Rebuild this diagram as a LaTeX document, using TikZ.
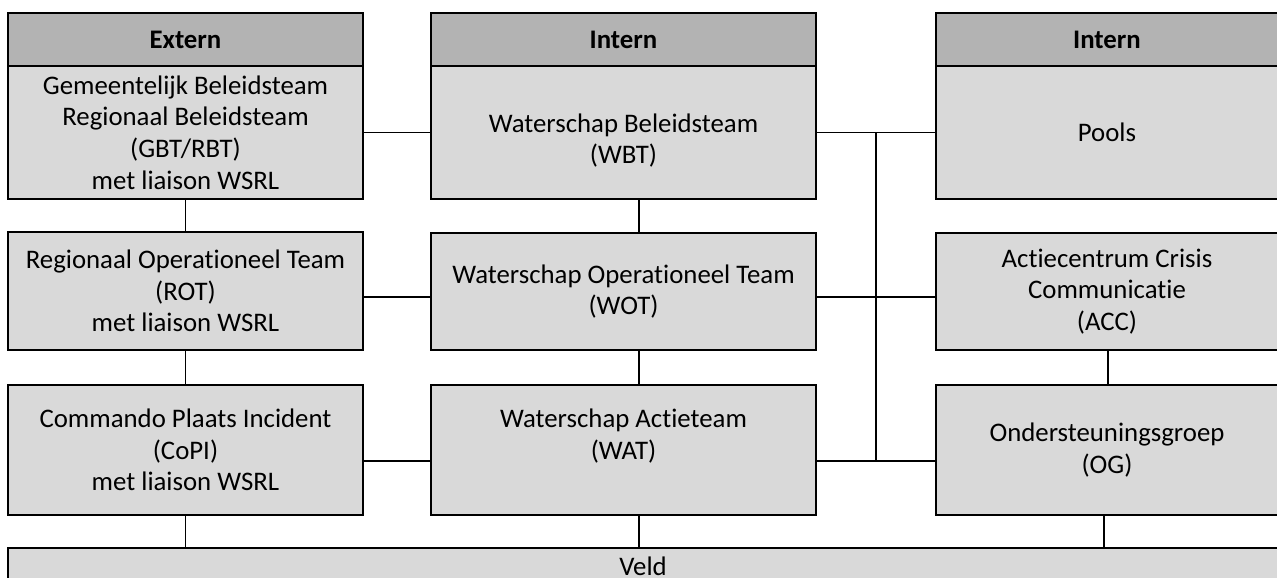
\documentclass[tikz,border=0pt]{standalone}
\usepackage{fontspec}
\setmainfont{Carlito}[RawFeature=-liga]
\usepackage{xcolor}
\definecolor{hdrgray}{HTML}{B3B3B3}
\definecolor{boxgray}{HTML}{D9D9D9}

\begin{document}
\begin{tikzpicture}[x=1pt,y=-1pt,
  every node/.style={inner sep=0pt,outer sep=0pt,align=center,
    font=\fontsize{26.8}{31.6}\selectfont},
  hdr/.style={draw,line width=1.8pt,fill=hdrgray,minimum height=53pt,font=\fontsize{26.8}{31.6}\selectfont\bfseries},
  unit/.style={draw,line width=1.8pt,fill=boxgray},
  link/.style={line width=1.5pt}]
\useasboundingbox (0,0) rectangle (1277,578);
\clip (0,0) rectangle (1277,578);

\coordinate (lvl1) at (0,132.5);
\coordinate (lvl2) at (0,297);
\coordinate (lvl3) at (0,461);
\coordinate (bus) at (876,0);
\coordinate (cm) at (639,0);
\coordinate (cr1) at (1108,0);
\coordinate (cr2) at (1104,0);

\node [hdr,minimum width=355pt] (hdrext) at (185.5,39.5) {Extern};
\node [hdr,minimum width=385pt] (hdrint) at (623.5,39.5) {Intern};
\node [hdr,minimum width=342pt] (hdrpool) at (1107,39.5) {Intern};

\node [unit,minimum width=355pt,minimum height=133pt] (gbt) at (185.5,132.5) {Gemeentelijk Beleidsteam\\Regionaal Beleidsteam\\(GBT/RBT)\\met liaison WSRL};
\node [unit,minimum width=355pt,minimum height=118pt] (rot) at (185.5,291) {Regionaal Operationeel Team\\(ROT)\\met liaison WSRL};
\node [unit,minimum width=355pt,minimum height=130pt] (copi) at (185.5,450) {Commando Plaats Incident\\(CoPI)\\met liaison WSRL};

\node [unit,minimum width=385pt,minimum height=133pt] (wbt) at (623.5,132.5) {\mbox{}\\[3pt]Waterschap Beleidsteam\\(WBT)};
\node [unit,minimum width=385pt,minimum height=117pt] (wot) at (623.5,291.5) {Waterschap Operationeel Team\\(WOT)};
\node [unit,minimum width=385pt,minimum height=130pt] (wat) at (623.5,450) {Waterschap Actieteam\\(WAT)\\\mbox{}};

\node [unit,minimum width=342pt,minimum height=133pt] (pools) at (1107,132.5) {Pools};
\node [unit,minimum width=342pt,minimum height=117pt] (acc) at (1107,291.5) {Actiecentrum Crisis\\Communicatie\\(ACC)};
\node [unit,minimum width=342pt,minimum height=130pt] (og) at (1107,450) {Ondersteuningsgroep\\(OG)};

\node [unit,minimum width=1270pt,minimum height=36pt] (veld) at (643,566) {Veld};

\draw [link] (gbt.south) -- (rot.north);
\draw [link] (rot.south) -- (copi.north);
\draw [link] (copi.south) -- (copi.south |- veld.north);
\draw [link] (wbt.south -| cm) -- (wot.north -| cm);
\draw [link] (wot.south -| cm) -- (wat.north -| cm);
\draw [link] (wat.south -| cm) -- (veld.north -| cm);
\draw [link] (acc.south -| cr1) -- (og.north -| cr1);
\draw [link] (og.south -| cr2) -- (veld.north -| cr2);

\draw [link] (gbt.east |- lvl1) -- (wbt.west |- lvl1);
\draw [link] (rot.east |- lvl2) -- (wot.west |- lvl2);
\draw [link] (copi.east |- lvl3) -- (wat.west |- lvl3);
\draw [link] (wbt.east |- lvl1) -- (pools.west |- lvl1);
\draw [link] (wot.east |- lvl2) -- (acc.west |- lvl2);
\draw [link] (wat.east |- lvl3) -- (og.west |- lvl3);
\draw [link] (bus |- lvl1) -- (bus |- lvl3);

\end{tikzpicture}
\end{document}
